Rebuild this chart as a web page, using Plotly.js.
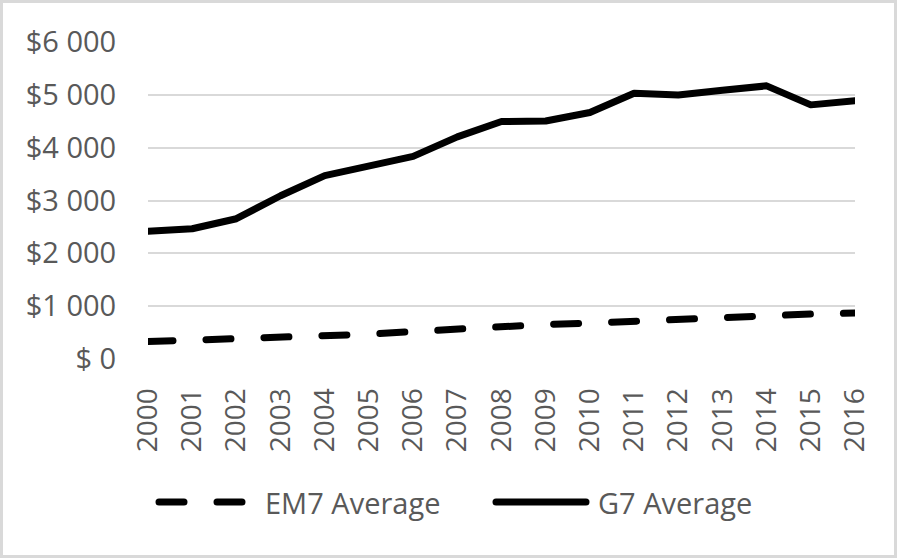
<!DOCTYPE html>
<html>
<head>
<meta charset="utf-8">
<script src="https://cdn.plot.ly/plotly-3.0.1.min.js"></script>
<style>
  html, body { margin: 0; padding: 0; background: #fff; }
  #wrap { position: relative; width: 897px; height: 558px; }
  #chart { width: 897px; height: 558px; }
  #frame { position: absolute; left: 0; top: 0; width: 897px; height: 558px; box-sizing: border-box; border: 3px solid #d9d9d9; pointer-events: none; }
  .scatterlayer .js-line, .shapelayer path { stroke-linecap: round; stroke-linejoin: round; }
</style>
</head>
<body>
<div id="wrap">
  <div id="chart"></div>
  <div id="frame"></div>
</div>
<script>
const years = ['2000','2001','2002','2003','2004','2005','2006','2007','2008','2009','2010','2011','2012','2013','2014','2015','2016'];
const em7Average = [330, 355, 385, 400, 430, 470, 520, 570, 620, 655, 680, 720, 760, 800, 830, 850, 870];
const g7Average = [2420, 2465, 2655, 3090, 3470, 3640, 3835, 4205, 4495, 4505, 4665, 5030, 4995, 5085, 5170, 4810, 4890];
const yTickVals = [0, 1000, 2000, 3000, 4000, 5000, 6000];
const yTickText = ['$ 0', '$1 000', '$2 000', '$3 000', '$4 000', '$5 000', '$6 000'];
const seriesNames = ['EM7 Average', 'G7 Average'];

const FONT = 'Open Sans, Noto Sans, sans-serif';
const GREY = '#595959';
const W = 897, H = 558, ML = 148, MR = 42, MT = 42, MB = 199;
const PW = W - ML - MR, PH = H - MT - MB;
const px = x => (x - ML) / PW;
const py = y => (H - MB - y) / PH;

const traces = [
  { x: years, y: em7Average, name: seriesNames[0], type: 'scatter', mode: 'lines',
    line: { color: '#000', width: 7, dash: '25px,33px' }, hoverinfo: 'x+y+name' },
  { x: years, y: g7Average, name: seriesNames[1], type: 'scatter', mode: 'lines',
    line: { color: '#000', width: 7 }, hoverinfo: 'x+y+name' }
];

const legY = py(502);
const layout = {
  width: W, height: H,
  margin: { l: ML, r: MR, t: MT, b: MB, pad: 0 },
  paper_bgcolor: '#fff', plot_bgcolor: '#fff',
  showlegend: false,
  font: { family: FONT, color: GREY, size: 29 },
  xaxis: {
    type: 'category', tickangle: -90, showgrid: false, zeroline: false,
    showline: false, ticks: 'outside', ticklen: 17, tickcolor: 'rgba(0,0,0,0)',
    tickfont: { family: FONT, size: 28, color: GREY }, fixedrange: true
  },
  yaxis: {
    range: [0, 6000], tickvals: yTickVals, ticktext: yTickText,
    showgrid: true, gridcolor: '#d9d9d9', gridwidth: 2, zeroline: false,
    showline: false, ticks: 'outside', ticklen: 25, tickcolor: 'rgba(0,0,0,0)',
    tickfont: { family: FONT, size: 29, color: GREY }, fixedrange: true
  },
  shapes: [
    { type: 'line', xref: 'paper', yref: 'paper', x0: px(159), x1: px(243), y0: legY, y1: legY,
      line: { color: '#000', width: 7, dash: '25px,33px' } },
    { type: 'line', xref: 'paper', yref: 'paper', x0: px(496), x1: px(586), y0: legY, y1: legY,
      line: { color: '#000', width: 7 } }
  ],
  annotations: [
    { xref: 'paper', yref: 'paper', x: px(263), y: legY, xanchor: 'left', yanchor: 'middle',
      text: seriesNames[0], showarrow: false, font: { family: FONT, size: 29, color: GREY } },
    { xref: 'paper', yref: 'paper', x: px(596), y: legY, xanchor: 'left', yanchor: 'middle',
      text: seriesNames[1], showarrow: false, font: { family: FONT, size: 29, color: GREY } }
  ]
};

Plotly.newPlot('chart', traces, layout, { displayModeBar: false, staticPlot: true });
</script>
</body>
</html>
